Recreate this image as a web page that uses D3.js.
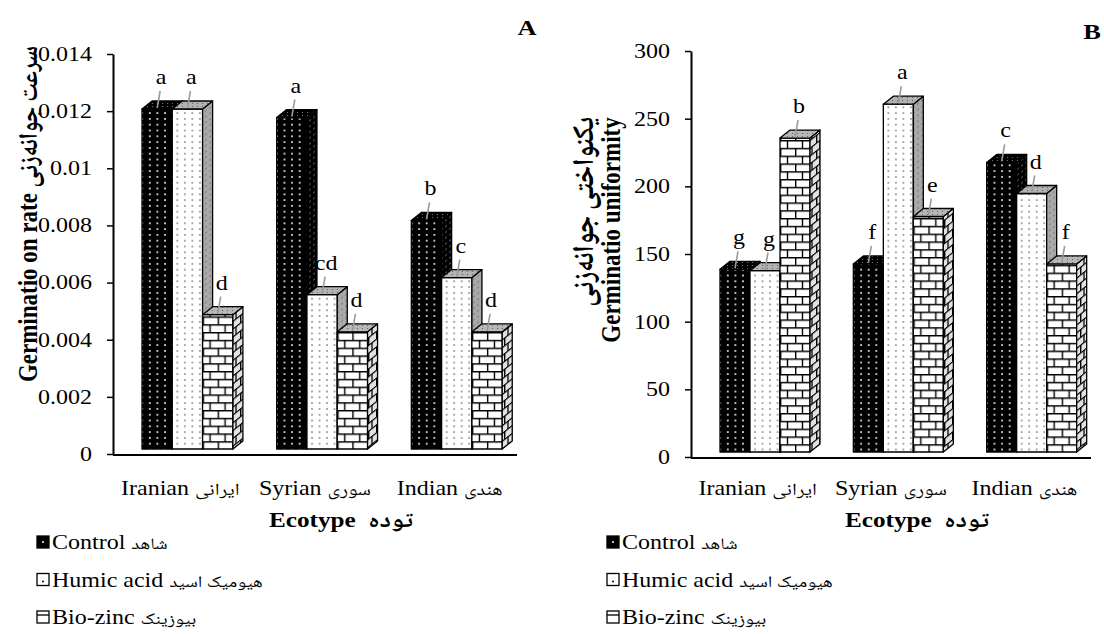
<!DOCTYPE html>
<html>
<head>
<meta charset="utf-8">
<script src="https://cdn.jsdelivr.net/npm/d3@7"></script>
<style>
  body { margin: 0; background: #fff; }
  svg text { font-family: 'Liberation Serif', 'Times New Roman', serif; fill: #000; }
  svg tspan.fa { font-family: 'Noto Naskh Arabic', 'Noto Sans Arabic', 'DejaVu Sans', sans-serif; }
</style>
</head>
<body>
<svg class="chart" width="1104" height="634"></svg>
<script>
// categories
const ecotypes = ['Iranian', 'Syrian', 'Indian'];
const ecotypesFa = ['ایرانی', 'سوری', 'هندی'];
const treatments = ['Control', 'Humic acid', 'Bio-zinc'];
const treatmentsFa = ['شاهد', 'هیومیک اسید', 'بیوزینک'];

// A: germination rate
const rateControl = [0.0119, 0.0116, 0.0080];
const rateHumic = [0.0119, 0.0054, 0.0060];
const rateBiozinc = [0.0047, 0.0041, 0.0041];
const rateLettersControl = ['a', 'a', 'b'];
const rateLettersHumic = ['a', 'cd', 'c'];
const rateLettersBiozinc = ['d', 'd', 'd'];
const rateTicks = [0, 0.002, 0.004, 0.006, 0.008, 0.01, 0.012, 0.014];

// B: germination uniformity
const unifControl = [135, 139, 214];
const unifHumic = [134, 257, 191];
const unifBiozinc = [232, 174, 139];
const unifLettersControl = ['g', 'f', 'c'];
const unifLettersHumic = ['g', 'a', 'd'];
const unifLettersBiozinc = ['b', 'e', 'f'];
const unifTicks = [0, 50, 100, 150, 200, 250, 300];

const svg = d3.select('svg.chart');
const defs = svg.append('defs');
const SX = 1.2;            // text in the reference is stretched sideways
const DX = 10, DY = -8;    // 3d depth of the columns
const LIFT = 5;            // front faces sit a little above the axis line
const SKEW = Math.atan2(DY, DX) * 180 / Math.PI;

//Horizontal text (latin + persian part), stretched like the reference
function addText(g, x, y, en, fa, size, anchor, bold, faSize) {
  let t = g.append('text')
    .attr('transform', `translate(${x},${y}) scale(${SX},1)`)
    .attr('text-anchor', anchor || 'start')
    .style('font-size', size + 'px')
    .style('font-weight', bold ? 'bold' : 'normal');
  t.append('tspan').text(en);
  if (fa) {
    t.append('tspan')
      .classed('fa', true)
      .style('font-size', (faSize || size - 3) + 'px')
      .text(fa);
  }
  return t;
}

//Dot pattern helper
function dotPattern(id, bg, dot, w, h, r, px, transform) {
  let p = defs.append('pattern')
    .attr('id', id)
    .attr('patternUnits', 'userSpaceOnUse')
    .attr('width', w).attr('height', h)
    .attr('x', px || 0);
  if (transform) p.attr('patternTransform', transform);
  p.append('rect').attr('width', w).attr('height', h).attr('fill', bg);
  p.append('circle').attr('cx', w / 2).attr('cy', h / 2).attr('r', r).attr('fill', dot);
  return p;
}

//Brick pattern helper
function brickPattern(id, bg, line, w, h, px, py, transform) {
  let p = defs.append('pattern')
    .attr('id', id)
    .attr('patternUnits', 'userSpaceOnUse')
    .attr('width', w).attr('height', h * 2)
    .attr('x', px || 0).attr('y', py || 0);
  if (transform) p.attr('patternTransform', transform);
  p.append('rect').attr('width', w).attr('height', h * 2).attr('fill', bg);
  p.append('path')
    .attr('d', `M0,0.7H${w}M0,${h + 0.7}H${w}M${w / 2},0.7V${h + 0.7}M0.7,${h + 0.7}V${h * 2}`)
    .attr('stroke', line).attr('stroke-width', 1.4).attr('fill', 'none');
  return p;
}

// shared side and top patterns
const skew = `skewY(${SKEW})`;
dotPattern('side-control', '#000', '#8a8a8a', 4, 5.8, 0.7, 0, skew);
dotPattern('side-humic', '#a9a9a9', '#333', 4, 5.8, 0.6, 0, skew);
brickPattern('side-brick', '#e2e2e2', '#000', 8, 7.8, 0, 0, skew);
dotPattern('top-control', '#000', '#888', 5, 3, 0.6);
dotPattern('top-humic', '#b2b2b2', '#555', 5, 3, 0.6);
dotPattern('top-brick', '#b8b8b8', '#555', 5, 3, 0.6);

function frontPattern(id, kind, x0, bottom) {
  if (kind === 'control') return dotPattern(id, '#000', '#fff', 7.6, 5.8, 0.95, x0 + 4);
  if (kind === 'humic') return dotPattern(id, '#fff', '#333', 7.5, 5.8, 0.75, x0 + 1.3);
  return brickPattern(id, '#fff', '#000', 15, 7.8, x0, bottom);
}

//Draw one panel
function drawChart(cfg) {
  const g = svg.append('g');

  let x = d3.scaleBand().domain(ecotypes).range(cfg.xRange);
  let inner = d3.scaleBand().domain(treatments).range([29, 29 + 3 * cfg.barW]);
  let y = d3.scaleLinear().domain([0, cfg.max]).range(cfg.yRange);

  //Y axis
  let yAxis = g.append('g')
    .attr('transform', `translate(${cfg.xRange[0]},0)`)
    .call(d3.axisLeft(y)
      .tickValues(cfg.ticks)
      .tickSize(6)
      .tickSizeOuter(0)
      .tickPadding(11.5)
      .tickFormat(d => String(+d.toFixed(3))));
  yAxis.select('.domain').attr('stroke', '#000').attr('stroke-width', 2);
  yAxis.selectAll('.tick line').attr('stroke', '#000').attr('stroke-width', 1.5);
  yAxis.selectAll('.tick text')
    .attr('transform', `scale(${SX},1)`)
    .style('font-size', '20px')
    .style('font-family', "'Liberation Serif', serif")
    .attr('fill', '#000');

  //Bars data
  let series = [
    { kind: 'control', values: cfg.control, letters: cfg.controlLetters },
    { kind: 'humic', values: cfg.humic, letters: cfg.humicLetters },
    { kind: 'brick', values: cfg.biozinc, letters: cfg.biozincLetters },
  ];
  let bars = [];
  ecotypes.forEach((e, i) => {
    series.forEach((s, j) => {
      let x0 = x(e) + inner(treatments[j]);
      bars.push({
        id: `${cfg.key}-${i}-${j}`,
        kind: s.kind,
        letter: s.letters[i],
        x0: x0,
        w: inner.bandwidth(),
        top: y(s.values[i]) - LIFT,
        bottom: y(0) - LIFT,
      });
    });
  });

  bars.forEach(b => frontPattern('front-' + b.id, b.kind, b.x0, b.bottom));

  let barG = g.selectAll('.bar')
    .data(bars)
    .enter()
    .append('g')
      .classed('bar', true)
      .attr('stroke', '#000')
      .attr('stroke-width', 1.3)
      .attr('stroke-linejoin', 'round');

  barG.append('rect')
    .attr('x', d => d.x0)
    .attr('y', d => d.top)
    .attr('width', d => d.w)
    .attr('height', d => d.bottom - d.top)
    .attr('fill', d => `url(#front-${d.id})`);

  barG.append('polygon')
    .attr('points', d => [
      [d.x0 + d.w, d.top], [d.x0 + d.w + DX, d.top + DY],
      [d.x0 + d.w + DX, d.bottom + DY], [d.x0 + d.w, d.bottom]
    ].join(' '))
    .attr('fill', d => `url(#side-${d.kind})`);

  barG.append('polygon')
    .attr('points', d => [
      [d.x0, d.top], [d.x0 + DX, d.top + DY],
      [d.x0 + d.w + DX, d.top + DY], [d.x0 + d.w, d.top]
    ].join(' '))
    .attr('fill', d => `url(#top-${d.kind})`);

  //Significance letters with leader lines
  let lab = g.selectAll('.sig')
    .data(bars)
    .enter()
    .append('g')
      .classed('sig', true);
  lab.append('line')
    .attr('x1', d => d.x0 + d.w / 2)
    .attr('y1', d => d.top - 1)
    .attr('x2', d => d.x0 + d.w / 2 + 3)
    .attr('y2', d => d.top - 18)
    .attr('stroke', '#9a9a9a')
    .attr('stroke-width', 1.6);
  lab.each(function (d) {
    addText(d3.select(this), d.x0 + d.w / 2 + 4, d.top - 25, d.letter, null, 20, 'middle');
  });

  //X axis line
  g.append('line')
    .attr('x1', cfg.xRange[0]).attr('x2', cfg.xRange[1])
    .attr('y1', y(0) + 1).attr('y2', y(0) + 1)
    .attr('stroke', '#000').attr('stroke-width', 2);

  //Category labels
  ecotypes.forEach((e, i) => {
    addText(g, x(e) + x.bandwidth() / 2, 495, e + ' ', ecotypesFa[i], 20, 'middle');
  });

  //Axis titles
  let mid = (cfg.xRange[0] + cfg.xRange[1]) / 2;
  addText(g, mid + 26, 527, 'Ecotype\u00a0\u00a0', 'توده', 21, 'middle', true, 22);

  cfg.yTitles.forEach(t => {
    let txt = g.append('text')
      .attr('transform', `translate(${t.x},${t.y}) rotate(-90) scale(1,1.15)`)
      .attr('text-anchor', 'middle')
      .style('font-size', '23px')
      .style('font-weight', 'bold');
    if (t.en) txt.append('tspan').text(t.en);
    if (t.fa) txt.append('tspan').classed('fa', true).style('font-size', t.faSize + 'px').text(t.fa);
  });

  //Panel letter
  addText(g, cfg.panelX, cfg.panelY, cfg.panel, null, 22, 'middle', true);

  //Legend
  treatments.forEach((t, j) => {
    let cy = 543 + j * 37.5;
    let lx = cfg.legendX;
    let key = g.append('g').attr('stroke', '#000').attr('stroke-width', 1.3);
    key.append('rect')
      .attr('x', lx).attr('y', cy - 7).attr('width', 12).attr('height', 12)
      .attr('fill', j === 0 ? '#000' : '#fff');
    if (j === 0) {
      key.append('circle').attr('cx', lx + 6).attr('cy', cy - 1).attr('r', 1).attr('fill', '#fff').attr('stroke', 'none');
    } else if (j === 1) {
      key.append('circle').attr('cx', lx + 6).attr('cy', cy + 1).attr('r', 1).attr('fill', '#000').attr('stroke', 'none');
    } else {
      key.append('line').attr('x1', lx).attr('x2', lx + 12).attr('y1', cy - 3).attr('y2', cy - 3);
    }
    addText(g, lx + 15, cy + 6, t + ' ', treatmentsFa[j], 20, 'start', false, 16);
  });
}

drawChart({
  key: 'rate',
  xRange: [113, 517],
  yRange: [454, 54],
  max: 0.014,
  ticks: rateTicks,
  barW: 30.3,
  control: rateControl,
  humic: rateHumic,
  biozinc: rateBiozinc,
  controlLetters: rateLettersControl,
  humicLetters: rateLettersHumic,
  biozincLetters: rateLettersBiozinc,
  yTitles: [{ x: 37, y: 214, en: 'Germinatio on rate ', fa: 'سرعت جوانه‌زنی', faSize: 23 }],
  panel: 'A', panelX: 527, panelY: 35,
  legendX: 37,
});

drawChart({
  key: 'unif',
  xRange: [691, 1091],
  yRange: [457, 51],
  max: 300,
  ticks: unifTicks,
  barW: 30,
  control: unifControl,
  humic: unifHumic,
  biozinc: unifBiozinc,
  controlLetters: unifLettersControl,
  humicLetters: unifLettersHumic,
  biozincLetters: unifLettersBiozinc,
  yTitles: [
    { x: 593, y: 212, fa: 'یکنواختی جوانه‌زنی', faSize: 26 },
    { x: 620, y: 230, en: 'Germinatio uniformity' },
  ],
  panel: 'B', panelX: 1092, panelY: 39,
  legendX: 607,
});
</script>
</body>
</html>
